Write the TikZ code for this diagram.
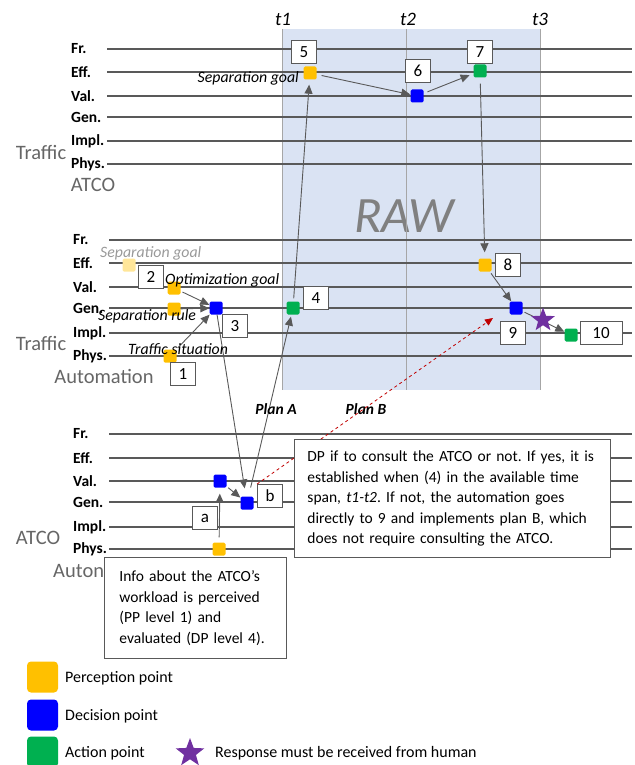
\documentclass[tikz,border=0pt]{standalone}
\usepackage{fontspec}
\setmainfont{Carlito}
\usetikzlibrary{arrows.meta,shapes.geometric}
\definecolor{pp}{HTML}{FFC000}
\definecolor{dpc}{HTML}{0000FF}
\definecolor{apc}{HTML}{00B050}
\definecolor{ppfade}{HTML}{FFE699}
\definecolor{rawc}{HTML}{DAE3F3}
\definecolor{ln}{HTML}{595959}
\definecolor{starc}{HTML}{7030A0}
\definecolor{reddash}{HTML}{C00000}
\frenchspacing
\begin{document}
\begin{tikzpicture}[x=1pt,y=-1pt,
 lvl/.style={font=\fontsize{15.5}{16}\selectfont\bfseries, anchor=west, inner sep=0},
 grp/.style={font=\fontsize{20.5}{22}\selectfont, text=black!60, inner sep=0},
 hline/.style={ln, line width=1.1pt},
 tline/.style={black!35, line width=1pt},
 sq/.style={rectangle, rounded corners=1.5pt, minimum size=13pt, inner sep=0},
 ppt/.style={sq, fill=pp},
 dpt/.style={sq, fill=dpc},
 apt/.style={sq, fill=apc},
 numbox/.style={draw=ln, fill=white, line width=0.9pt, minimum width=25pt, minimum height=23pt, inner sep=0, font=\fontsize{17}{17}\selectfont},
 itl/.style={font=\fontsize{15.8}{16}\selectfont\itshape, inner sep=0},
 plan/.style={font=\fontsize{15.5}{16}\selectfont\bfseries\itshape, inner sep=0},
 arr/.style={ln, line width=0.9pt, -{Triangle[length=9pt,width=8pt]}},
 tlbl/.style={font=\fontsize{19}{19}\selectfont\itshape, inner sep=0},
 txtbox/.style={draw=ln, fill=white, line width=0.9pt, anchor=north west, align=left, font=\fontsize{15.5}{20.5}\selectfont},
 legsq/.style={rectangle, rounded corners=4pt, minimum size=31pt, inner sep=0},
 legtxt/.style={font=\fontsize{16}{16}\selectfont, anchor=west, inner sep=0},
 starsh/.style={star, star points=5, star point ratio=2.4, fill=starc, inner sep=0}
]
\useasboundingbox (0,0) rectangle (634,765);
% RAW region
\fill[rawc] (282,29) rectangle (540,390);
\node[font=\fontsize{51}{51}\selectfont\itshape, text=black!50, inner sep=0] (raw) at (404,216) {RAW};
\draw[tline] (282,29) -- (282,390);
\draw[tline] (406,29) -- (406,390);
\draw[tline] (540,29) -- (540,390);
\node[tlbl] (t1) at (283,19) {t1};
\node[tlbl] (t2) at (408,19) {t2};
\node[tlbl] (t3) at (540,19) {t3};
% horizontal lines and labels
\foreach \y/\l in {49/Fr., 72/Eff., 96/Val., 117/Gen., 141/Impl., 164/Phys.}{
  \draw[hline] (107,\y) -- (632,\y);
  \node[lvl] at (71,\y) {\l};
}
\foreach \y/\l in {240/Fr., 263/Eff., 287/Val., 308/Gen., 333/Impl., 356/Phys.}{
  \draw[hline] (109,\y) -- (632,\y);
  \node[lvl] at (73,\y) {\l};
}
\foreach \y/\l in {434/Fr., 458/Eff., 481/Val., 502/Gen., 527/Impl., 549/Phys.}{
  \draw[hline] (109,\y) -- (632,\y);
  \node[lvl] at (73,\y) {\l};
}
% group labels
\node[grp] (g1) at (41,152) {Traffic};
\node[grp] (g2) at (93,185) {ATCO};
\node[grp] (g3) at (41,343) {Traffic};
\node[grp] (g4) at (104,376) {Automation};
\node[grp] (g5) at (38,538) {ATCO};
\node[grp, anchor=west] (g6) at (53,571) {Auton};
% points
\node[ppt] (p5) at (310,73) {};
\node[dpt] (p6) at (417,96) {};
\node[apt] (p7) at (480,71) {};
\node[sq, fill=ppfade] (pf) at (129,265) {};
\node[ppt] (popt) at (174,288) {};
\node[ppt] (psep) at (174,309) {};
\node[dpt] (p3) at (216,308) {};
\node[ppt] (p1) at (170,356) {};
\node[apt] (p4) at (293,308) {};
\node[ppt] (p8) at (485,265) {};
\node[dpt] (p9) at (516,308) {};
\node[apt] (p10) at (571,335) {};
\node[dpt] (pv) at (220,481) {};
\node[dpt] (pb) at (247,503) {};
\node[ppt] (pa) at (219,549) {};
\coordinate (redend) at (493,318);
% arrows
\draw[arr, shorten <=5pt] (p5) -- (p6);
\draw[arr, shorten <=4pt, shorten >=4pt] (p6) -- (p7);
\draw[arr, shorten <=3pt, shorten >=5pt] (p4) -- (p5);
\draw[arr, shorten <=6pt, shorten >=6pt] (p7) -- (p8);
\draw[arr, shorten <=2pt] (popt) -- (p3);
\draw[arr] (psep) -- (p3);
\draw[arr, shorten <=2pt] (p1) -- (p3);
\draw[arr, shorten >=8pt] (p3) -- (pb);
\draw[arr, shorten <=9pt, shorten >=2pt] (pb) -- (p4);
\draw[arr, shorten <=2pt] (pv) -- (pb);
\draw[arr, shorten <=5pt, shorten >=6pt] (pa) -- (pv);
\draw[arr, shorten <=2pt] (p8) -- (p9);
\draw[arr, shorten <=2pt] (p9) -- (p10);
\node[starsh, minimum size=25pt] (st) at (543,320) {};
% number boxes
\node[numbox] (b5) at (304,52) {5};
\node[numbox] (b6) at (418,71) {6};
\node[numbox] (b7) at (480,52) {7};
\node[numbox] (b2) at (151,277) {2};
\node[numbox] (b3) at (235,326) {3};
\node[numbox] (b1) at (183,374) {1};
\node[numbox] (b4) at (316,298) {4};
\node[numbox] (b8) at (508,265) {8};
\node[numbox] (b9) at (513,333) {9};
\node[numbox, minimum width=42pt] (b10) at (601,333) {10};
\node[numbox] (ba) at (205,518) {a};
\node[numbox] (bb) at (270,496) {b};
% italic labels
\node[itl, anchor=east] (lsg1) at (299,78) {Separation goal};
\node[itl, anchor=west, text=black!40] (lsg2) at (100,253) {Separation goal};
\node[itl, anchor=west] (lopt) at (165,280) {Optimization goal};
\node[itl, anchor=west] (lsr) at (98,316) {Separation rule};
\node[itl, anchor=west] (lts) at (128,349) {Traffic situation};
\node[plan] (pA) at (276,409) {Plan A};
\node[plan] (pB) at (366,409) {Plan B};
% red dashed
\draw[reddash, dashed, line width=0.8pt, -{Triangle[length=8pt,width=7pt]}] (bb.north west) -- (redend);
% text boxes
\node[txtbox, minimum width=309pt, minimum height=118pt, text width=290pt, inner xsep=13pt] (dpbox) at (294,439)
 {DP if to consult the ATCO or not. If yes, it is\\ established when (4) in the available time\\ span, \textit{t1-t2}. If not, the automation goes\\ directly to 9 and implements plan B, which\\ does not require consulting the ATCO.};
\node[txtbox, minimum width=182pt, minimum height=101pt, text width=152pt, inner xsep=15pt] (infobox) at (104,557)
 {Info about the ATCO’s\\ workload is perceived\\ (PP level 1) and\\ evaluated (DP level 4).};
% legend
\node[legsq, fill=pp] (l1) at (42.5,677) {};
\node[legsq, fill=dpc] (l2) at (42.5,715) {};
\node[legsq, fill=apc] (l3) at (42.5,752) {};
\node[legtxt] (lt1) at (65,678) {Perception point};
\node[legtxt] (lt2) at (65,716) {Decision point};
\node[legtxt] (lt3) at (65,753) {Action point};
\node[starsh, minimum size=30pt] (lst) at (190,753) {};
\node[legtxt] (lt4) at (215,753) {Response must be received from human};
\end{tikzpicture}
\end{document}
